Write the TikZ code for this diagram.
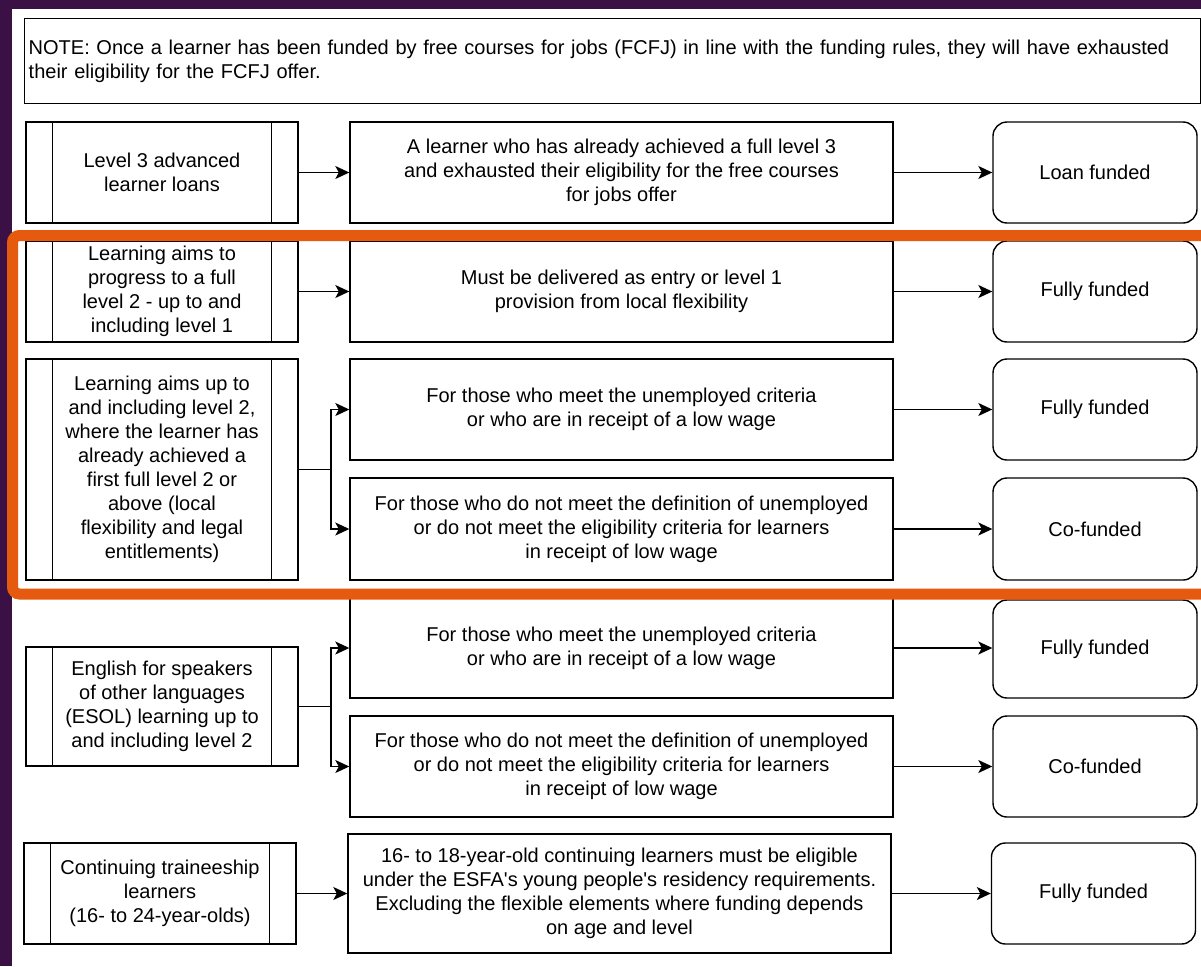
\documentclass[tikz,border=0pt]{standalone}
\usepackage{fontspec}
\setmainfont{Liberation Sans}
\usetikzlibrary{arrows.meta,calc}
\definecolor{bgpurple}{HTML}{3B1045}
\definecolor{hiorange}{HTML}{E65A10}
\begin{document}
\begin{tikzpicture}[x=1pt,y=-1pt,
  every node/.style={font=\fontsize{20}{24}\selectfont, text=black},
  box/.style={draw=black, line width=1.4pt, align=center, inner sep=2pt},
  lbox/.style={box, minimum width=272pt},
  mbox/.style={box, minimum width=543pt},
  rbox/.style={box, rounded corners=14pt, minimum width=204pt},
  arr/.style={line width=1.4pt, -{Stealth[length=14pt,width=13pt,inset=3.5pt]}},
  ln/.style={line width=1.4pt}]
\useasboundingbox (0,0) rectangle (1201,966);
\fill[bgpurple] (0,0) rectangle (1201,966);
\fill[white] (12,9) rectangle (1201,966);

% note
\node[box, anchor=north west, minimum width=1176pt, minimum height=85pt, text width=1168pt, align=left, inner sep=4pt] (note) at (24,18)
 {NOTE: Once a learner has been funded by free courses for jobs (FCFJ) in line with the funding rules, they will have exhausted\\their eligibility for the FCFJ offer.};

% left boxes
\node[lbox, minimum height=101pt] (l1) at (162,172.5) {Level 3 advanced\\learner loans};
\node[lbox, minimum height=101pt] (l2) at (162,291.5) {Learning aims to\\progress to a full\\level 2 - up to and\\including level 1};
\node[lbox, minimum height=221pt] (l3) at (162,469.5) {Learning aims up to\\and including level 2,\\where the learner has\\already achieved a\\first full level 2 or\\above (local\\flexibility and legal\\entitlements)};
\node[lbox, minimum height=119pt] (l4) at (162,706.5) {English for speakers\\of other languages\\(ESOL) learning up to\\and including level 2};
\node[lbox, minimum height=101pt] (l5) at (160,893.5) {Continuing traineeship\\learners\\(16- to 24-year-olds)};
\foreach \n in {l1,l2,l3,l4,l5}{
  \draw[ln] ([xshift=27pt]\n.north west) -- ([xshift=27pt]\n.south west);
  \draw[ln] ([xshift=-27pt]\n.north east) -- ([xshift=-27pt]\n.south east);
}

% middle boxes
\node[mbox, minimum height=101pt] (m1) at (621.5,172.5) {A learner who has already achieved a full level 3\\and exhausted their eligibility for the free courses\\for jobs offer};
\node[mbox, minimum height=101pt] (m2) at (621.5,291.5) {Must be delivered as entry or level 1\\provision from local flexibility};
\node[mbox, minimum height=101pt] (m3a) at (621.5,409.5) {For those who meet the unemployed criteria\\or who are in receipt of a low wage};
\node[mbox, minimum height=102pt] (m3b) at (621.5,529) {For those who do not meet the definition of unemployed\\or do not meet the eligibility criteria for learners\\in receipt of low wage};
\node[mbox, minimum height=100pt] (m4a) at (621.5,648) {For those who meet the unemployed criteria\\or who are in receipt of a low wage};
\node[mbox, minimum height=101pt] (m4b) at (621.5,766.5) {For those who do not meet the definition of unemployed\\or do not meet the eligibility criteria for learners\\in receipt of low wage};
\node[mbox, minimum height=119pt] (m5) at (619.5,893.5) {16- to 18-year-old continuing learners must be eligible\\under the ESFA\textquotesingle s young people\textquotesingle s residency requirements.\\Excluding the flexible elements where funding depends\\on age and level};

% right boxes
\node[rbox, minimum height=101pt] (r1) at (1095,172.5) {Loan funded};
\node[rbox, minimum height=101pt] (r2) at (1095,291.5) {Fully funded};
\node[rbox, minimum height=101pt] (r3a) at (1095,409.5) {Fully funded};
\node[rbox, minimum height=102pt] (r3b) at (1095,529) {Co-funded};
\node[rbox, minimum height=98pt] (r4a) at (1095,649) {Fully funded};
\node[rbox, minimum height=101pt] (r4b) at (1095,766.5) {Co-funded};
\node[rbox, minimum height=101pt] (r5) at (1093.5,893.5) {Fully funded};

% connectors
\draw[arr] (l1.east) -- (m1.west);
\draw[arr] (l2.east) -- (m2.west);
\coordinate (b3) at (331,469.5);
\draw[ln] (l3.east) -- (b3);
\draw[arr] (b3) |- (m3a.west);
\draw[arr] (b3) |- (m3b.west);
\coordinate (b4) at (331,706.5);
\draw[ln] (l4.east) -- (b4);
\draw[arr] (b4) |- (m4a.west);
\draw[arr] (b4) |- (m4b.west);
\draw[arr] (l5.east) -- (m5.west);

\draw[arr] (m1.east) -- (r1.west);
\draw[arr] (m2.east) -- (r2.west);
\draw[arr] (m3a.east) -- (r3a.west);
\draw[arr] (m3b.east) -- (r3b.west);
\draw[arr] (m4a.east) -- (m4a.east -| r4a.west);
\draw[arr] (m4b.east) -- (r4b.west);
\draw[arr] (m5.east) -- (r5.west);

% highlight frame
\begin{scope}
\clip (0,0) rectangle (1201,966);
\draw[hiorange, line width=11pt, rounded corners=7pt] (12.5,235.5) rectangle (1230,594);
\end{scope}
\end{tikzpicture}
\end{document}
